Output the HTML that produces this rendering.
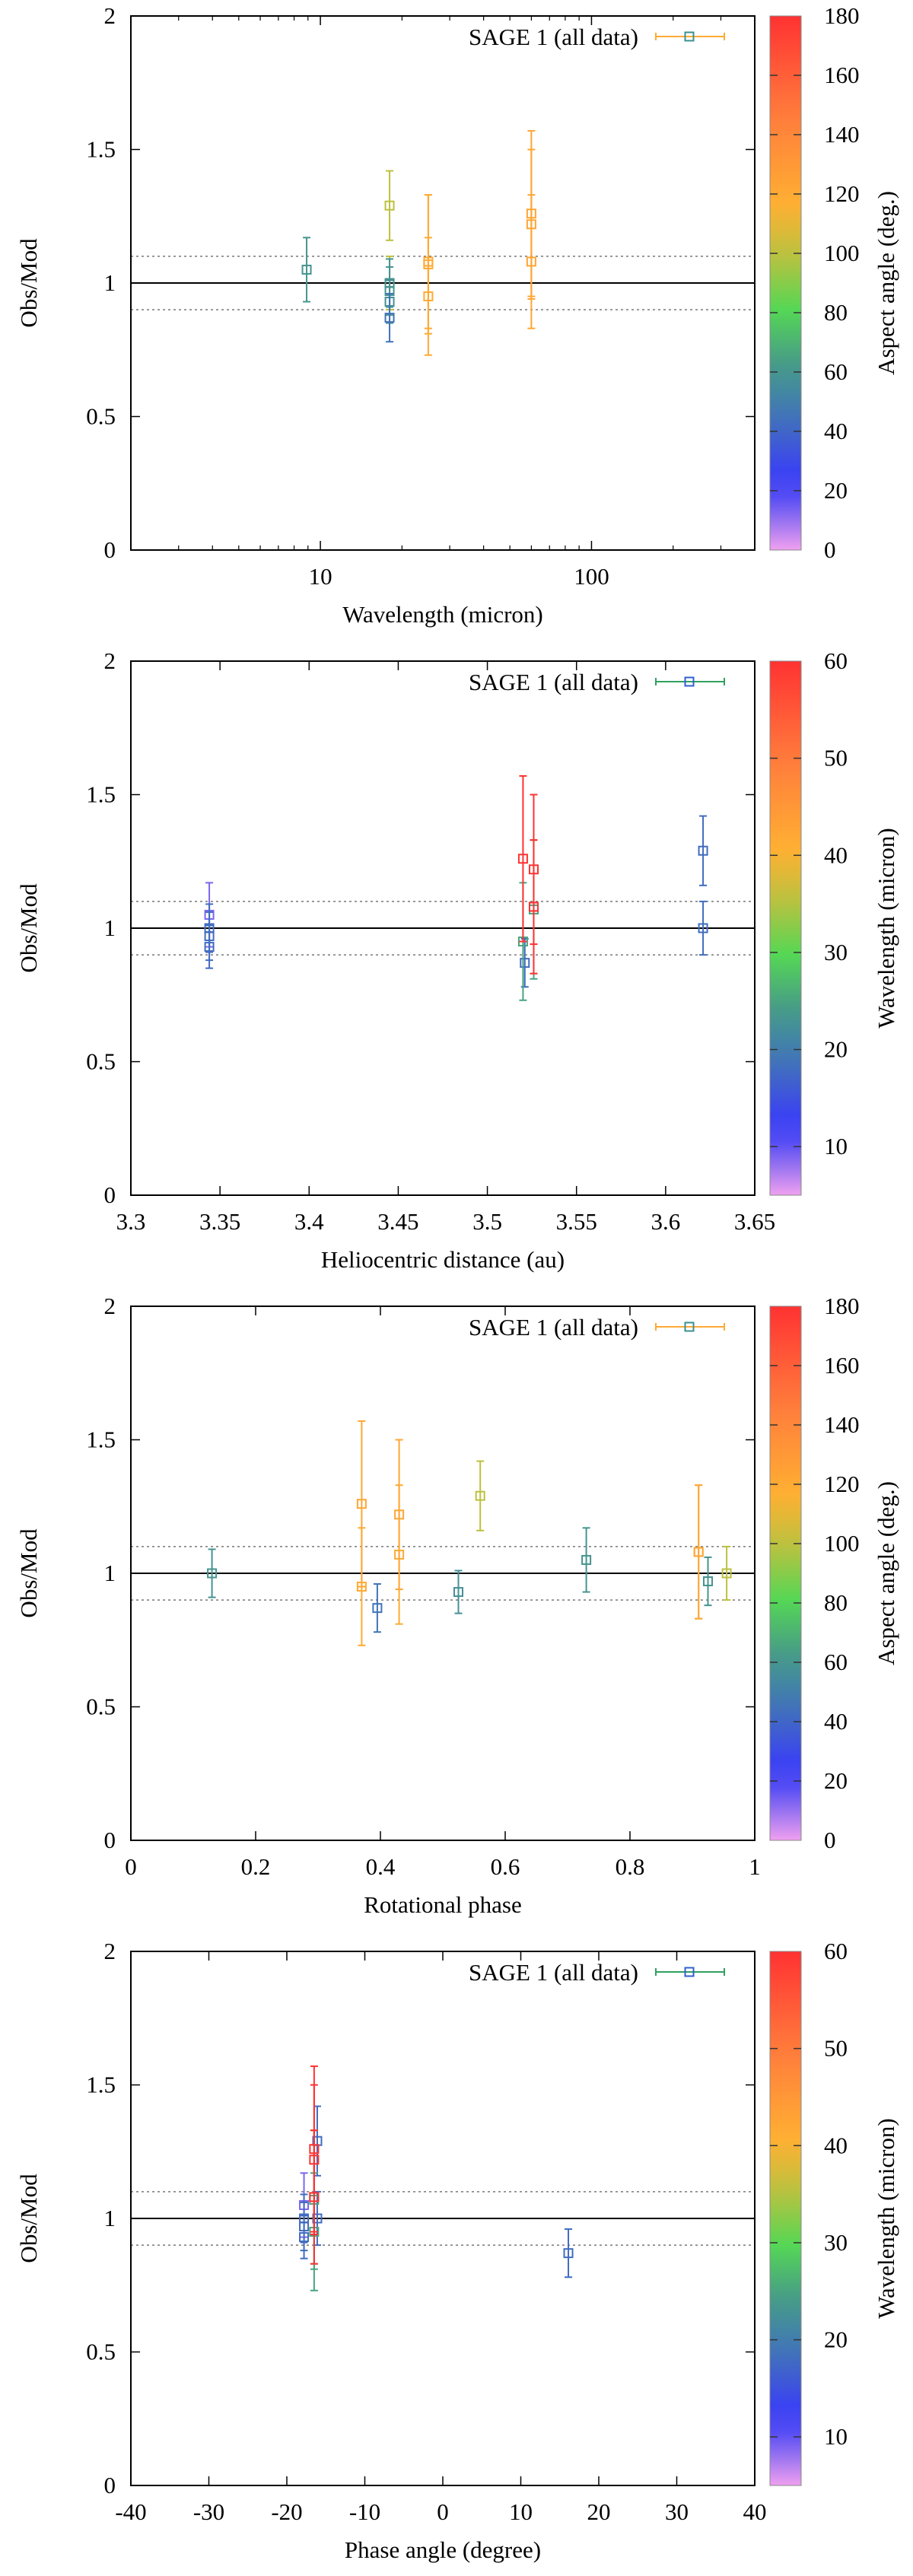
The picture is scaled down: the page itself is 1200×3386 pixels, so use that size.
<!DOCTYPE html>
<html><head><meta charset="utf-8"><style>
html,body{margin:0;padding:0;background:#fff}
svg{display:block}
svg text{font-family:"Liberation Serif","DejaVu Serif",serif;fill:#000}
</style></head><body>
<svg id="chart" width="1200" height="3386" viewBox="0 0 1200 3386" font-family="Liberation Serif, DejaVu Serif, serif" style="font-family:'Liberation Serif','DejaVu Serif',serif" xmlns="http://www.w3.org/2000/svg"></svg>
<script>
// ---- data (13 observations) ----
const wavelength = [8.9, 18, 18, 18, 18, 18, 18, 25, 25, 25, 60, 60, 60];
const helioDist  = [3.344, 3.621, 3.621, 3.344, 3.344, 3.344, 3.521, 3.526, 3.520, 3.526, 3.520, 3.526, 3.526];
const rotPhase   = [0.73, 0.56, 0.955, 0.13, 0.925, 0.525, 0.395, 0.43, 0.37, 0.91, 0.37, 0.43, 0.91];
const phaseAngle = [-17.8, -16.1, -16.1, -17.8, -17.8, -17.8, 16.1, -16.5, -16.5, -16.5, -16.5, -16.5, -16.5];
const aspectAng  = [60, 100, 100, 60, 60, 58, 45, 120, 120, 120, 122, 122, 122];
const obsMod     = [1.05, 1.29, 1.00, 1.00, 0.97, 0.93, 0.87, 1.07, 0.95, 1.08, 1.26, 1.22, 1.08];
const obsErr     = [0.12, 0.13, 0.10, 0.09, 0.09, 0.08, 0.09, 0.26, 0.22, 0.25, 0.31, 0.28, 0.25];
const yTicks = [0, 0.5, 1, 1.5, 2];
const yTickLabels = ["0", "0.5", "1", "1.5", "2"];
const aspectTicks = [0, 20, 40, 60, 80, 100, 120, 140, 160, 180];
const wlTicks = [10, 20, 30, 40, 50, 60];
const logMajor = [10, 100];
const logMinor = [2,3,4,5,6,7,8,9,20,30,40,50,60,70,80,90,200,300,400];
const helioTicks = [3.3, 3.35, 3.4, 3.45, 3.5, 3.55, 3.6, 3.65];
const rotTicks = [0, 0.2, 0.4, 0.6, 0.8, 1];
const paTicks = [-40, -30, -20, -10, 0, 10, 20, 30, 40];

const NS = "http://www.w3.org/2000/svg";
const svg = document.getElementById('chart');
const FONT = "Liberation Serif, DejaVu Serif, serif";
const L = 172, R = 992, CB0 = 1012, CB1 = 1053, H = 702;
const stops = [[0,[240,160,240]],[0.09,[95,85,240]],[0.125,[55,55,255]],[0.22,[65,100,200]],[0.28,[65,130,170]],[0.34,[70,150,140]],[0.45,[85,215,85]],[0.545,[180,195,65]],[0.64,[255,178,50]],[0.82,[255,122,60]],[1,[255,50,50]]];
function cmap(t){t=Math.max(0,Math.min(1,t));for(let i=1;i<stops.length;i++){if(t<=stops[i][0]){const a=stops[i-1],b=stops[i];const f=(t-a[0])/(b[0]-a[0]);const c=a[1].map((v,k)=>Math.round(v+(b[1][k]-v)*f));return `rgb(${c[0]},${c[1]},${c[2]})`;}}return 'rgb(255,50,50)';}
function el(tag, attrs, parent){const e=document.createElementNS(NS,tag);for(const k in attrs)e.setAttribute(k,attrs[k]);if(tag==='text')e.setAttribute('font-family',FONT);(parent||svg).appendChild(e);return e;}

function panel(top, xs, xScale, xTickVals, xTickLabels, xTitle, cVals, cMin, cMax, cTicks, cTitle, legBar, legSq, minorTicks, name){
  const g = el('g', {});
  
  
  const B = top + H;
  const ys = v => B - v / 2 * H;
  const l1 = el('line', {x1:L, x2:R, y1:ys(1), y2:ys(1), stroke:'#000', 'stroke-width':2}, g);
  
  
  [1.1, 0.9].forEach(v=>{
    const d = el('line', {x1:L, x2:R, y1:ys(v), y2:ys(v), stroke:'#777', 'stroke-width':1.5, 'stroke-dasharray':'3,4'}, g);
    
    
  });
  yTicks.forEach((v,i)=>{
    el('line',{x1:L,x2:L+12,y1:ys(v),y2:ys(v),stroke:'#000','stroke-width':1.5},g);
    el('line',{x1:R-12,x2:R,y1:ys(v),y2:ys(v),stroke:'#000','stroke-width':1.5},g);
    const t = el('text',{x:152,y:ys(v)+10,'font-size':31,'text-anchor':'end'},g);
    t.textContent = yTickLabels[i];
    
    
  });
  xTickVals.forEach((v,i)=>{
    const x = xScale(v);
    el('line',{x1:x,x2:x,y1:B,y2:B-12,stroke:'#000','stroke-width':1.5},g);
    el('line',{x1:x,x2:x,y1:top,y2:top+12,stroke:'#000','stroke-width':1.5},g);
    const t = el('text',{x:x,y:B+45,'font-size':31,'text-anchor':'middle'},g);
    t.textContent = xTickLabels[i];
    
    
  });
  (minorTicks||[]).forEach(v=>{
    const x = xScale(v);
    el('line',{x1:x,x2:x,y1:B,y2:B-6,stroke:'#000','stroke-width':1.2},g);
    el('line',{x1:x,x2:x,y1:top,y2:top+6,stroke:'#000','stroke-width':1.2},g);
  });
  for(let i=0;i<obsMod.length;i++){
    const x = xScale(xs[i]), y = ys(obsMod[i]);
    const c = cmap((cVals[i]-cMin)/(cMax-cMin));
    const p = el('g',{stroke:c,'stroke-width':2,fill:'none'},g);
    
    
    const y1 = ys(obsMod[i]+obsErr[i]), y2 = ys(obsMod[i]-obsErr[i]);
    el('line',{x1:x,x2:x,y1:y1,y2:y2},p);
    el('line',{x1:x-5,x2:x+5,y1:y1,y2:y1},p);
    el('line',{x1:x-5,x2:x+5,y1:y2,y2:y2},p);
    el('rect',{x:x-5.5,y:y-5.5,width:11,height:11},p);
  }
  const f = el('rect',{x:L,y:top,width:R-L,height:H,fill:'none',stroke:'#000','stroke-width':2},g);
  
  
  const lg = el('g',{},g);
  
  
  const lt = el('text',{x:839,y:top+38,'font-size':31,'text-anchor':'end'},lg);
  lt.textContent = 'SAGE 1 (all data)';
  const ly = top+27;
  el('line',{x1:862,x2:952,y1:ly,y2:ly,stroke:legBar,'stroke-width':2},lg);
  el('line',{x1:862,x2:862,y1:ly-5,y2:ly+5,stroke:legBar,'stroke-width':2},lg);
  el('line',{x1:952,x2:952,y1:ly-5,y2:ly+5,stroke:legBar,'stroke-width':2},lg);
  el('rect',{x:906-5.5,y:ly-5.5,width:11,height:11,fill:'none',stroke:legSq,'stroke-width':2},lg);
  const xt = el('text',{x:(L+R)/2,y:B+95,'font-size':31,'text-anchor':'middle'},g);
  xt.textContent = xTitle;
  
  
  const yt = el('text',{x:0,y:0,'font-size':31,'text-anchor':'middle',transform:`translate(48,${top+H/2}) rotate(-90)`},g);
  yt.textContent = 'Obs/Mod';
  
  
  const gid = 'grad'+top;
  const defs = el('defs',{},g);
  const lgd = el('linearGradient',{id:gid,x1:0,y1:1,x2:0,y2:0},defs);
  for(let k=0;k<=20;k++){el('stop',{offset:k/20,'stop-color':cmap(k/20)},lgd);}
  const cb = el('rect',{x:CB0,y:top,width:CB1-CB0,height:H,fill:`url(#${gid})`,stroke:'#888','stroke-width':1},g);
  
  
  cTicks.forEach(v=>{
    const y = B-(v-cMin)/(cMax-cMin)*H;
    if(v>cMin && v<cMax){
      el('line',{x1:CB0,x2:CB0+10,y1:y,y2:y,stroke:'#333','stroke-width':1.5},g);
      el('line',{x1:CB1-10,x2:CB1,y1:y,y2:y,stroke:'#333','stroke-width':1.5},g);
    }
    const t = el('text',{x:1083,y:y+10,'font-size':31},g);
    t.textContent = String(v);
    
    
  });
  const ct = el('text',{x:0,y:0,'font-size':31,'text-anchor':'middle',transform:`translate(1175,${top+H/2}) rotate(-90)`},g);
  ct.textContent = cTitle;
  
  
}

const logScale = v => L + (Math.log10(v) - Math.log10(2)) / (Math.log10(400) - Math.log10(2)) * (R-L);
const lin = (a,b) => v => L + (v-a)/(b-a)*(R-L);

panel(21, wavelength, logScale, logMajor, ["10","100"], 'Wavelength (micron)', aspectAng, 0, 180, aspectTicks, 'Aspect angle (deg.)', '#ffaa33', '#3a9090', logMinor, 'panel-wavelength');
panel(869, helioDist, lin(3.3,3.65), helioTicks, helioTicks.map(String), 'Heliocentric distance (au)', wavelength, 5, 60, wlTicks, 'Wavelength (micron)', '#30a060', '#3060d0', null, 'panel-heliocentric');
panel(1717, rotPhase, lin(0,1), rotTicks, rotTicks.map(String), 'Rotational phase', aspectAng, 0, 180, aspectTicks, 'Aspect angle (deg.)', '#ffaa33', '#3a9090', null, 'panel-rotational');
panel(2565, phaseAngle, lin(-40,40), paTicks, paTicks.map(String), 'Phase angle (degree)', wavelength, 5, 60, wlTicks, 'Wavelength (micron)', '#30a060', '#3060d0', null, 'panel-phase-angle');
</script>
</body></html>
